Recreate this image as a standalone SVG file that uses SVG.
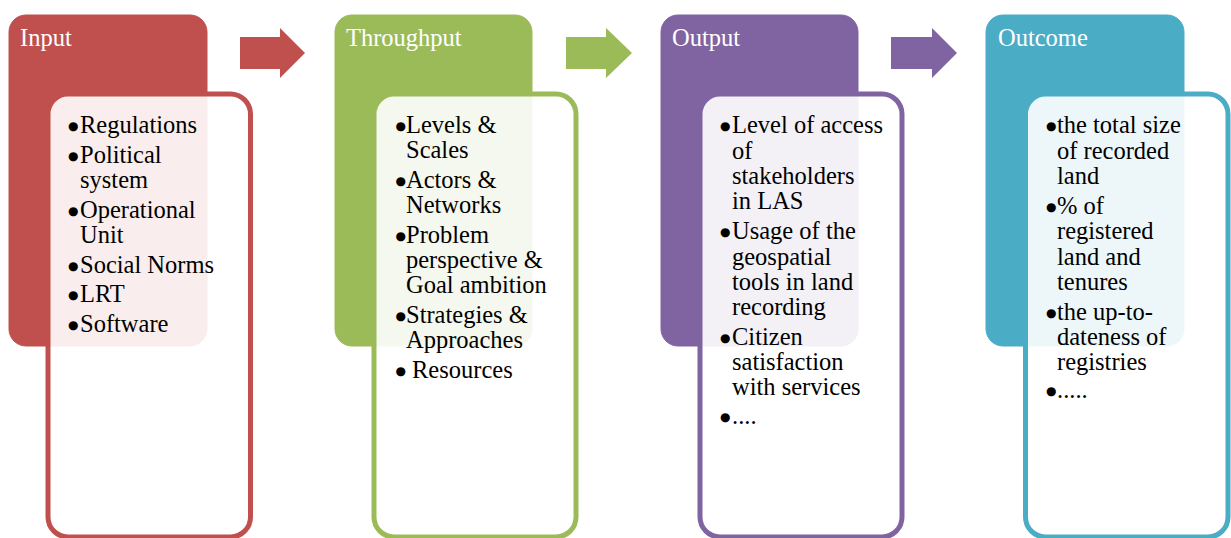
<svg xmlns="http://www.w3.org/2000/svg" width="1231" height="538" viewBox="0 0 1231 538">
  <style>
    .head { stroke: none; }
    .card { fill: #ffffff; fill-opacity: 0.9; stroke-width: 5; }
    .title { font-family: "Liberation Serif", "Times New Roman", serif; font-size: 24.5px; fill: #ffffff; }
    .item { font-family: "Liberation Serif", "Times New Roman", serif; font-size: 24.5px; fill: #000000; }
    .bul { font-family: "DejaVu Sans", sans-serif; font-size: 12px; }
    .red { fill: #C0504D; stroke: #C0504D; }
    .green { fill: #9BBB59; stroke: #9BBB59; }
    .purple { fill: #8064A2; stroke: #8064A2; }
    .teal { fill: #4BACC6; stroke: #4BACC6; }
  </style>

  <!-- Stage 1: Input -->
  <g id="input">
    <rect class="head red" x="9" y="15" width="198" height="331" rx="17"/>
    <text class="title" x="20" y="46">Input</text>
    <rect class="card" x="48" y="94" width="202.5" height="443" rx="20" stroke="#C0504D"/>
    <g class="item">
      <text><tspan class="bul" x="68" y="130">●</tspan><tspan x="80" y="133">Regulations</tspan></text>
      <text><tspan class="bul" x="68" y="160">●</tspan><tspan x="80" y="163">Political</tspan></text>
      <text x="80" y="188">system</text>
      <text><tspan class="bul" x="68" y="215">●</tspan><tspan x="80" y="218">Operational</tspan></text>
      <text x="80" y="243">Unit</text>
      <text><tspan class="bul" x="68" y="270">●</tspan><tspan x="80" y="273">Social Norms</tspan></text>
      <text><tspan class="bul" x="68" y="299">●</tspan><tspan x="80" y="302">LRT</tspan></text>
      <text><tspan class="bul" x="68" y="329">●</tspan><tspan x="80" y="332">Software</tspan></text>
    </g>
  </g>

  <!-- Stage 2: Throughput -->
  <g id="throughput">
    <rect class="head green" x="335" y="15" width="197" height="331" rx="17"/>
    <text class="title" x="346" y="46">Throughput</text>
    <rect class="card" x="374" y="94" width="202" height="443" rx="20" stroke="#9BBB59"/>
    <g class="item">
      <text><tspan class="bul" x="395.5" y="130">●</tspan><tspan x="406" y="133">Levels &amp;</tspan></text>
      <text x="406" y="158">Scales</text>
      <text><tspan class="bul" x="395.5" y="185">●</tspan><tspan x="406" y="188">Actors &amp;</tspan></text>
      <text x="406" y="213">Networks</text>
      <text><tspan class="bul" x="395.5" y="240">●</tspan><tspan x="406" y="243">Problem</tspan></text>
      <text x="406" y="268">perspective &amp;</text>
      <text x="406" y="293">Goal ambition</text>
      <text><tspan class="bul" x="395.5" y="320">●</tspan><tspan x="406" y="323">Strategies &amp;</tspan></text>
      <text x="406" y="348">Approaches</text>
      <text><tspan class="bul" x="395.5" y="375">●</tspan><tspan x="412" y="378">Resources</tspan></text>
    </g>
  </g>

  <!-- Stage 3: Output -->
  <g id="output">
    <rect class="head purple" x="661" y="15" width="197" height="331" rx="17"/>
    <text class="title" x="672" y="46">Output</text>
    <rect class="card" x="700" y="94" width="202" height="443" rx="20" stroke="#8064A2"/>
    <g class="item">
      <text><tspan class="bul" x="720" y="130">●</tspan><tspan x="732" y="133">Level of access</tspan></text>
      <text x="732" y="158.5">of</text>
      <text x="732" y="184">stakeholders</text>
      <text x="732" y="209">in LAS</text>
      <text><tspan class="bul" x="720" y="236">●</tspan><tspan x="732" y="239">Usage of the</tspan></text>
      <text x="732" y="264.5">geospatial</text>
      <text x="732" y="290">tools in land</text>
      <text x="732" y="315">recording</text>
      <text><tspan class="bul" x="720" y="342">●</tspan><tspan x="732" y="345">Citizen</tspan></text>
      <text x="732" y="370">satisfaction</text>
      <text x="732" y="395">with services</text>
      <text><tspan class="bul" x="720" y="421">●</tspan><tspan x="732" y="424">....</tspan></text>
    </g>
  </g>

  <!-- Stage 4: Outcome -->
  <g id="outcome">
    <rect class="head teal" x="986" y="15" width="198" height="331" rx="17"/>
    <text class="title" x="998" y="46">Outcome</text>
    <rect class="card" x="1025.5" y="94" width="202.5" height="443" rx="20" stroke="#4BACC6"/>
    <g class="item">
      <text><tspan class="bul" x="1046" y="130">●</tspan><tspan x="1057" y="133">the total size</tspan></text>
      <text x="1057" y="158.5">of recorded</text>
      <text x="1057" y="184">land</text>
      <text><tspan class="bul" x="1046" y="211">●</tspan><tspan x="1057" y="214">% of</tspan></text>
      <text x="1057" y="239">registered</text>
      <text x="1057" y="264.5">land and</text>
      <text x="1057" y="290">tenures</text>
      <text><tspan class="bul" x="1046" y="317">●</tspan><tspan x="1057" y="320">the up-to-</tspan></text>
      <text x="1057" y="345">dateness of</text>
      <text x="1057" y="370">registries</text>
      <text><tspan class="bul" x="1046" y="395">●</tspan><tspan x="1057" y="398">.....</tspan></text>
    </g>
  </g>

  <!-- Block arrows between stages -->
  <g id="connectors">
    <polygon fill="#C0504D" points="240,37 280,37 280,28 305,53 280,78 280,69 240,69"/>
    <polygon fill="#9BBB59" points="566,37 606,37 606,28 632,53 606,78 606,69 566,69"/>
    <polygon fill="#8064A2" points="891,37 932,37 932,28 957,53 932,78 932,69 891,69"/>
  </g>
</svg>
